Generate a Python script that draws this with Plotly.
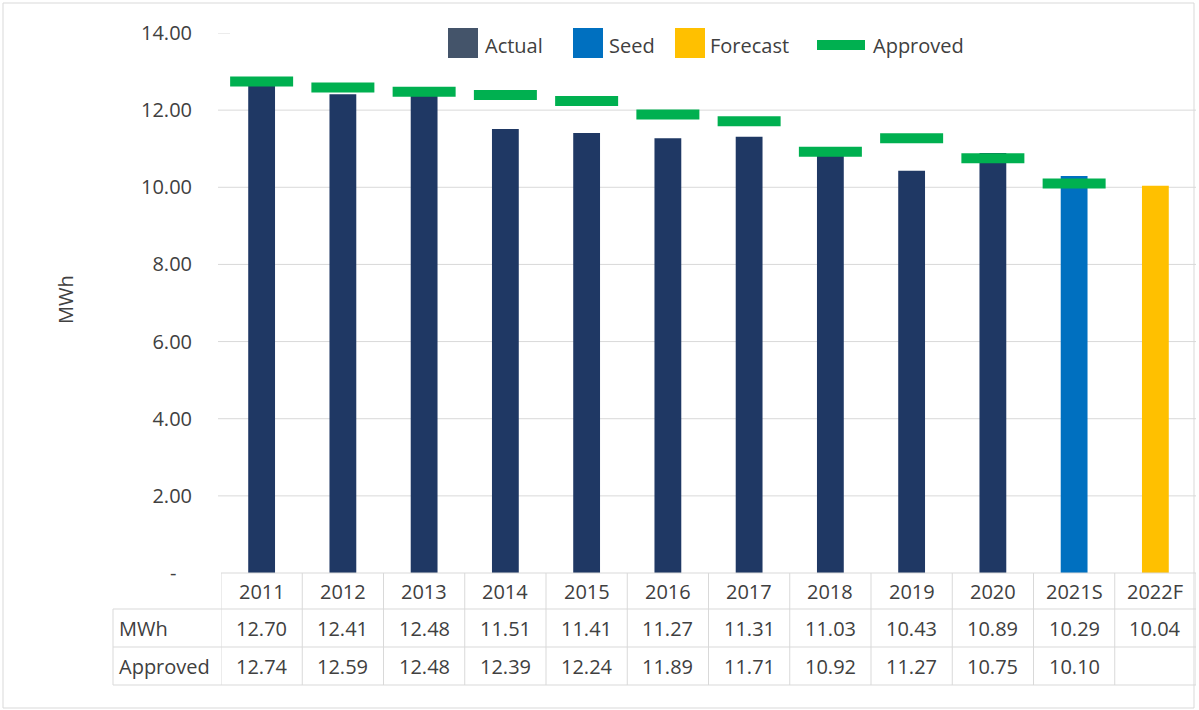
import plotly.graph_objects as go

# ---- data ----
years = ["2011", "2012", "2013", "2014", "2015", "2016", "2017", "2018", "2019", "2020", "2021S", "2022F"]
mwh = [12.70, 12.41, 12.48, 11.51, 11.41, 11.27, 11.31, 11.03, 10.43, 10.89, 10.29, 10.04]
approved = [12.74, 12.59, 12.48, 12.39, 12.24, 11.89, 11.71, 10.92, 11.27, 10.75, 10.10, None]
series = ["Actual"] * 10 + ["Seed"] + ["Forecast"]
y_ticks = [0, 2, 4, 6, 8, 10, 12, 14]
y_tick_text = ["-\u00a0\u00a0\u00a0", "2.00", "4.00", "6.00", "8.00", "10.00", "12.00", "14.00"]
grid_levels = [2, 4, 6, 8, 10, 12]

colors = {"Actual": "#1F3864", "Seed": "#0070C0", "Forecast": "#FFC000"}
legend_colors = {"Actual": "#44546A", "Seed": "#0070C0", "Forecast": "#FFC000", "Approved": "#00B050"}

W, H = 1199, 710
L, R, T, B = 221, 3, 33, 137
PW, PH = W - L - R, H - T - B
FONT = "Open Sans"
TXT = "#404040"
GRID = "#d9d9d9"


def xp(px):
    return (px - L) / PW


def yp(py):
    return (H - B - py) / PH


fig = go.Figure()

for name in ["Actual", "Seed", "Forecast"]:
    xs = [y for y, s in zip(years, series) if s == name]
    vs = [v for v, s in zip(mwh, series) if s == name]
    fig.add_trace(go.Bar(x=xs, y=vs, name=name, width=0.33,
                         marker=dict(color=colors[name], line=dict(width=0)),
                         showlegend=False))

fig.add_trace(go.Scatter(x=years, y=approved, mode="markers", name="Approved",
                         marker=dict(symbol="line-ew", size=45,
                                     line=dict(width=10, color="#00B050")),
                         showlegend=False))

shapes = []
annotations = []

# outer frame
shapes.append(dict(type="rect", xref="paper", yref="paper",
                   x0=xp(3), x1=xp(1194), y0=yp(3), y1=yp(708),
                   line=dict(color=GRID, width=1), layer="below"))

# horizontal gridlines
for g in grid_levels:
    shapes.append(dict(type="line", xref="paper", yref="y",
                       x0=xp(218), x1=1, y0=g, y1=g,
                       line=dict(color=GRID, width=1), layer="below"))
shapes.append(dict(type="line", xref="paper", yref="y",
                   x0=xp(218), x1=xp(230), y0=14, y1=14,
                   line=dict(color=GRID, width=1), layer="below"))

# data table grid
rows = [573, 609, 647, 685]
tbl_left, tbl_first = 113, 221
for i, r in enumerate(rows):
    x0 = tbl_first if i == 0 else tbl_left
    shapes.append(dict(type="line", xref="paper", yref="paper",
                       x0=xp(x0), x1=1, y0=yp(r), y1=yp(r),
                       line=dict(color=GRID, width=1)))
shapes.append(dict(type="line", xref="paper", yref="paper",
                   x0=xp(tbl_left), x1=xp(tbl_left), y0=yp(rows[1]), y1=yp(rows[3]),
                   line=dict(color=GRID, width=1)))
for k in range(len(years) + 1):
    shapes.append(dict(type="line", xref="x", yref="paper",
                       x0=k - 0.5, x1=k - 0.5, y0=yp(rows[0]), y1=yp(rows[3]),
                       line=dict(color=GRID, width=1)))

row_mid = [(rows[i] + rows[i + 1]) / 2 for i in range(3)]
for i, (yr, v, a) in enumerate(zip(years, mwh, approved)):
    annotations.append(dict(x=i, xref="x", y=yp(row_mid[0]), yref="paper",
                            text=yr, showarrow=False, xanchor="center", yanchor="middle"))
    annotations.append(dict(x=i, xref="x", y=yp(row_mid[1]), yref="paper",
                            text=f"{v:.2f}", showarrow=False, xanchor="center", yanchor="middle"))
    if a is not None:
        annotations.append(dict(x=i, xref="x", y=yp(row_mid[2]), yref="paper",
                                text=f"{a:.2f}", showarrow=False, xanchor="center", yanchor="middle"))
for lbl, ym in [("MWh", row_mid[1]), ("Approved", row_mid[2])]:
    annotations.append(dict(x=xp(117), xref="paper", y=yp(ym), yref="paper",
                            text=lbl, showarrow=False, xanchor="left", yanchor="middle"))

# y-axis title
annotations.append(dict(x=xp(65), xref="paper", y=yp(300), yref="paper", text="MWh",
                        textangle=-90, showarrow=False, xanchor="center", yanchor="middle"))

# legend
leg_y0, leg_y1, leg_mid = 28, 58, 45
for name, (sx0, sx1, tx) in {"Actual": (448, 478, 483),
                             "Seed": (573, 603, 607),
                             "Forecast": (675, 705, 708)}.items():
    shapes.append(dict(type="rect", xref="paper", yref="paper",
                       x0=xp(sx0), x1=xp(sx1), y0=yp(leg_y0), y1=yp(leg_y1),
                       fillcolor=legend_colors[name], line=dict(width=0)))
    annotations.append(dict(x=xp(tx), xref="paper", y=yp(leg_mid), yref="paper",
                            text=name, showarrow=False, xanchor="left", yanchor="middle"))
shapes.append(dict(type="line", xref="paper", yref="paper",
                   x0=xp(817), x1=xp(865), y0=yp(leg_mid), y1=yp(leg_mid),
                   line=dict(color=legend_colors["Approved"], width=10)))
annotations.append(dict(x=xp(871), xref="paper", y=yp(leg_mid), yref="paper",
                        text="Approved", showarrow=False, xanchor="left", yanchor="middle"))

fig.update_layout(
    width=W, height=H,
    margin=dict(l=L, r=R, t=T, b=B, pad=0),
    paper_bgcolor="white", plot_bgcolor="white",
    font=dict(family=FONT, size=20, color=TXT),
    barmode="overlay",
    shapes=shapes, annotations=annotations,
    showlegend=False,
    xaxis=dict(type="category", categoryorder="array", categoryarray=years,
               range=[-0.5, len(years) - 0.5], showticklabels=False,
               showgrid=False, zeroline=False, showline=False, ticks=""),
    yaxis=dict(range=[0, 14], tickvals=y_ticks, ticktext=y_tick_text,
               showgrid=False, zeroline=False,
               showline=False, ticks="", ticklabelstandoff=28,
               tickfont=dict(size=20, color=TXT)),
)

fig.write_html("out.html")
